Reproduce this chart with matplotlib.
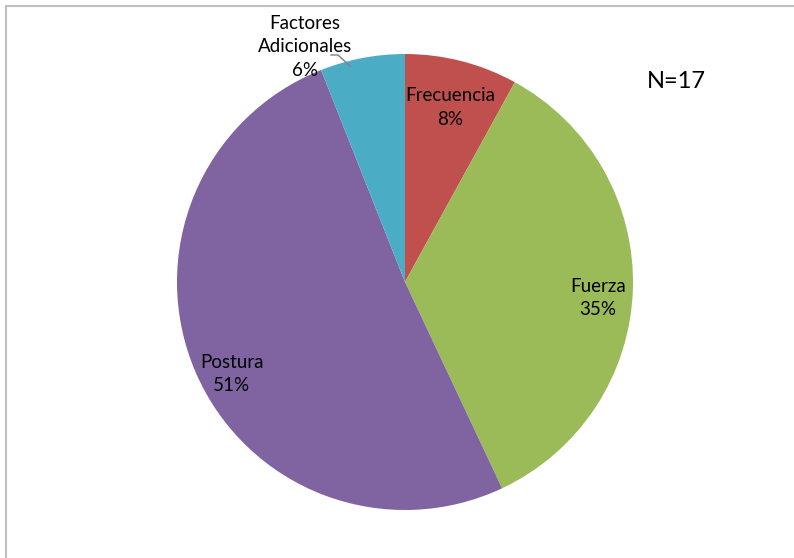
import matplotlib.pyplot as plt
import numpy as np

plt.rcParams['font.family'] = ['Lato', 'DejaVu Sans']

categorias = ['Frecuencia', 'Fuerza', 'Postura', 'Factores\nAdicionales']
porcentajes = [8, 35, 51, 6]
colores = ['#C0504D', '#9BBB59', '#8064A2', '#4BACC6']

fig = plt.figure(figsize=(7.94, 5.58), dpi=100)
ax = fig.add_axes([0, 0, 1, 1])

# marco del grafico
ax.plot([6, 6, 794], [0, 552, 552], color='#BFBFBF', lw=1.5)

cx, cy, R = 405, 276, 228
wedges, _ = ax.pie(porcentajes, colors=colores, startangle=90, counterclock=False,
                   center=(cx, cy), radius=R, frame=True,
                   wedgeprops=dict(linewidth=0))
ax.set_xlim(0, 794)
ax.set_ylim(0, 558)
ax.set_aspect('equal')
ax.axis('off')

# etiquetas dentro de las porciones
dist = [0.79, 0.85, 0.86]
desfase = [0, -3, 4.5]
for w, cat, p, d, off in zip(wedges[:3], categorias[:3], porcentajes[:3], dist, desfase):
    ang = np.deg2rad((w.theta1 + w.theta2) / 2 + off)
    ax.text(cx + d * R * np.cos(ang), cy + d * R * np.sin(ang), f'{cat}\n{p}%',
            ha='center', va='center', fontsize=13.5, linespacing=1.45, color='#000000')

# etiqueta exterior con linea guia
ax.text(305, 511, f'{categorias[3]}\n{porcentajes[3]}%', ha='center', va='center',
        fontsize=13.5, linespacing=1.45)
ax.plot([331, 338, 350], [503, 503, 492], color='#808080', lw=1)

ax.text(676, 476, 'N=17', ha='center', va='center', fontsize=17)

fig.savefig('out.png', dpi=100)
